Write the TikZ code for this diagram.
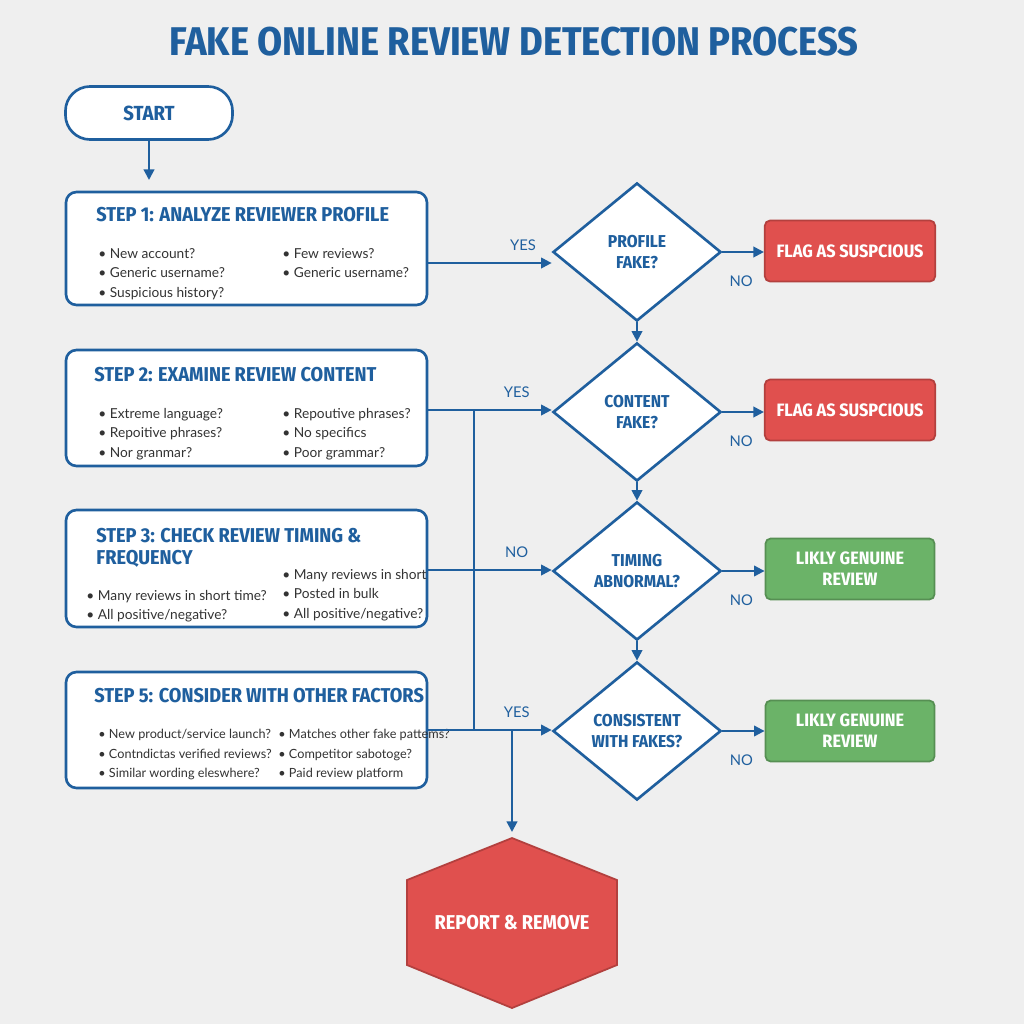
\documentclass[tikz,border=0pt]{standalone}
\usepackage{fontspec}
\setmainfont{Lato}
\newfontfamily\headfont{Fira Sans Condensed}[UprightFont=* Bold]
\usetikzlibrary{shapes.geometric,arrows.meta}
\definecolor{flowblue}{HTML}{1F5F9E}
\definecolor{flagred}{HTML}{E0504E}
\definecolor{okgreen}{HTML}{6BB368}
\definecolor{bggray}{HTML}{EFEFEF}
\tikzset{
  stepbox/.style={draw=flowblue, line width=0.75pt, rounded corners=3pt, fill=white},
  decision/.style={diamond, draw=flowblue, line width=0.75pt, fill=white, minimum width=1.68cm, minimum height=1.38cm, inner sep=0pt, align=center, font=\headfont\fontsize{4.9}{5.8}\selectfont, text=flowblue},
  result/.style={draw=#1!80!black, line width=0.5pt, fill=#1, rounded corners=1.5pt, minimum width=1.69cm, minimum height=0.61cm, align=center, text=white, font=\headfont\fontsize{5.1}{6}\selectfont},
  steptitle/.style={anchor=west, text=flowblue, font=\headfont\fontsize{5.7}{6.2}\selectfont, align=left},
  bullets/.style={anchor=north west, align=left, font=\fontsize{3.9}{5.5}\selectfont, text=black!80},
  flow/.style={draw=flowblue, line width=0.6pt, -{Triangle[length=3pt,width=3pt]}},
  line/.style={draw=flowblue, line width=0.6pt},
  answer/.style={text=flowblue, font=\fontsize{4.2}{5}\selectfont}
}
\begin{document}
\begin{tikzpicture}[x=0.01cm, y=-0.01cm]
  \fill[bggray] (0,0) rectangle (1024,1024);
  % title
  \node (title) at (514,42) {\headfont\fontsize{11.4}{13}\selectfont\color{flowblue}FAKE ONLINE REVIEW DETECTION PROCESS};
  % start
  \node[draw=flowblue, line width=0.75pt, rounded corners=7pt, fill=white, minimum width=1.67cm, minimum height=0.53cm, font=\headfont\fontsize{5.8}{7}\selectfont, text=flowblue] (start) at (149,113) {START};
  % step boxes
  \draw[stepbox] (66,192) rectangle (427,305);
  \node[steptitle] (s1) at (84,215) {STEP 1: ANALYZE REVIEWER PROFILE};
  \node[bullets] at (86,236) {• New account?\\• Generic username?\\• Suspicious history?};
  \node[bullets] at (270,236) {• Few reviews?\\• Generic username?};
  \draw[stepbox] (66,350) rectangle (427,466);
  \node[steptitle] (s2) at (82,375) {STEP 2: EXAMINE REVIEW CONTENT};
  \node[bullets] at (86,396) {• Extreme language?\\• Repoitive phrases?\\• Nor granmar?};
  \node[bullets] at (270,396) {• Repoutive phrases?\\• No specifics\\• Poor grammar?};
  \draw[stepbox] (66,510) rectangle (427,627);
  \node[steptitle] (s3) at (84,548) {STEP 3: CHECK REVIEW TIMING \&\\FREQUENCY};
  \node[bullets] at (74,578) {• Many reviews in short time?\\• All positive/negative?};
  \node[bullets] at (270,557) {• Many reviews in short\\• Posted in bulk\\• All positive/negative?};
  \draw[stepbox] (66,672) rectangle (427,788);
  \node[steptitle] (s5) at (82,696) {STEP 5: CONSIDER WITH OTHER FACTORS};
  \node[bullets, font=\fontsize{3.6}{5.5}\selectfont] at (86,717) {• New product/service launch?\\• Contndictas verified reviews?\\• Similar wording eleswhere?};
  \node[bullets, font=\fontsize{3.6}{5.5}\selectfont] at (266,717) {• Matches other fake pattems?\\• Competitor sabotoge?\\• Paid review platform};
  \coordinate (s1top) at (149,180);
  \coordinate (o1) at (427,263);
  \coordinate (o2) at (427,410);
  \coordinate (o3) at (427,570);
  \coordinate (o5) at (427,730);
  % decisions
  \node[decision] (d1) at (637,252) {PROFILE\\FAKE?};
  \node[decision] (d2) at (637,412) {CONTENT\\FAKE?};
  \node[decision] (d3) at (637,571) {TIMING\\ABNORMAL?};
  \node[decision] (d4) at (637,731) {CONSISTENT\\WITH FAKES?};
  % outcomes
  \node[result=flagred] (r1) at (850,251) {FLAG AS SUSPCIOUS};
  \node[result=flagred] (r2) at (850,410) {FLAG AS SUSPCIOUS};
  \node[result=okgreen] (r3) at (850,569) {LIKLY GENUINE\\REVIEW};
  \node[result=okgreen] (r4) at (850,731) {LIKLY GENUINE\\REVIEW};
  \draw[draw=flagred!80!black, line width=0.5pt, fill=flagred] (512,838) -- (617,880) -- (617,965) -- (512,1008) -- (407,965) -- (407,880) -- cycle;
  \coordinate (reporttop) at (512,832);
  \node[text=white, font=\headfont\fontsize{5.7}{7}\selectfont] (report) at (512,923) {REPORT \& REMOVE};
  % connectors
  \draw[flow] (start) -- (s1top);
  \draw[flow] (o1) -- node[answer, above, pos=0.77] {YES} (d1.west |- o1);
  \draw[flow] (o2) -- node[answer, above, pos=0.72] {YES} (d2.west |- o2);
  \draw[flow] (o3) -- node[answer, above, pos=0.72] {NO} (d3.west |- o3);
  \draw[flow] (o5) -- node[answer, above, pos=0.72] {YES} (d4.west |- o5);
  \coordinate (bus top) at (474,410);
  \coordinate (bus bot) at (474,730);
  \draw[line] (bus top) -- (bus bot);
  \coordinate (drop) at (512,730);
  \draw[flow] (drop) -- (reporttop);
  \draw[flow] (d1) -- (d2);
  \draw[flow] (d2) -- (d3);
  \draw[flow] (d3) -- (d4);
  \draw[flow] (d1.east) -- node[answer, below, pos=0.45, yshift=-3pt] {NO} (r1.west |- d1.east);
  \draw[flow] (d2.east) -- node[answer, below, pos=0.45, yshift=-3pt] {NO} (r2.west |- d2.east);
  \draw[flow] (d3.east) -- node[answer, below, pos=0.45, yshift=-3pt] {NO} (r3.west |- d3.east);
  \draw[flow] (d4.east) -- node[answer, below, pos=0.45, yshift=-3pt] {NO} (r4.west |- d4.east);
\end{tikzpicture}
\end{document}
